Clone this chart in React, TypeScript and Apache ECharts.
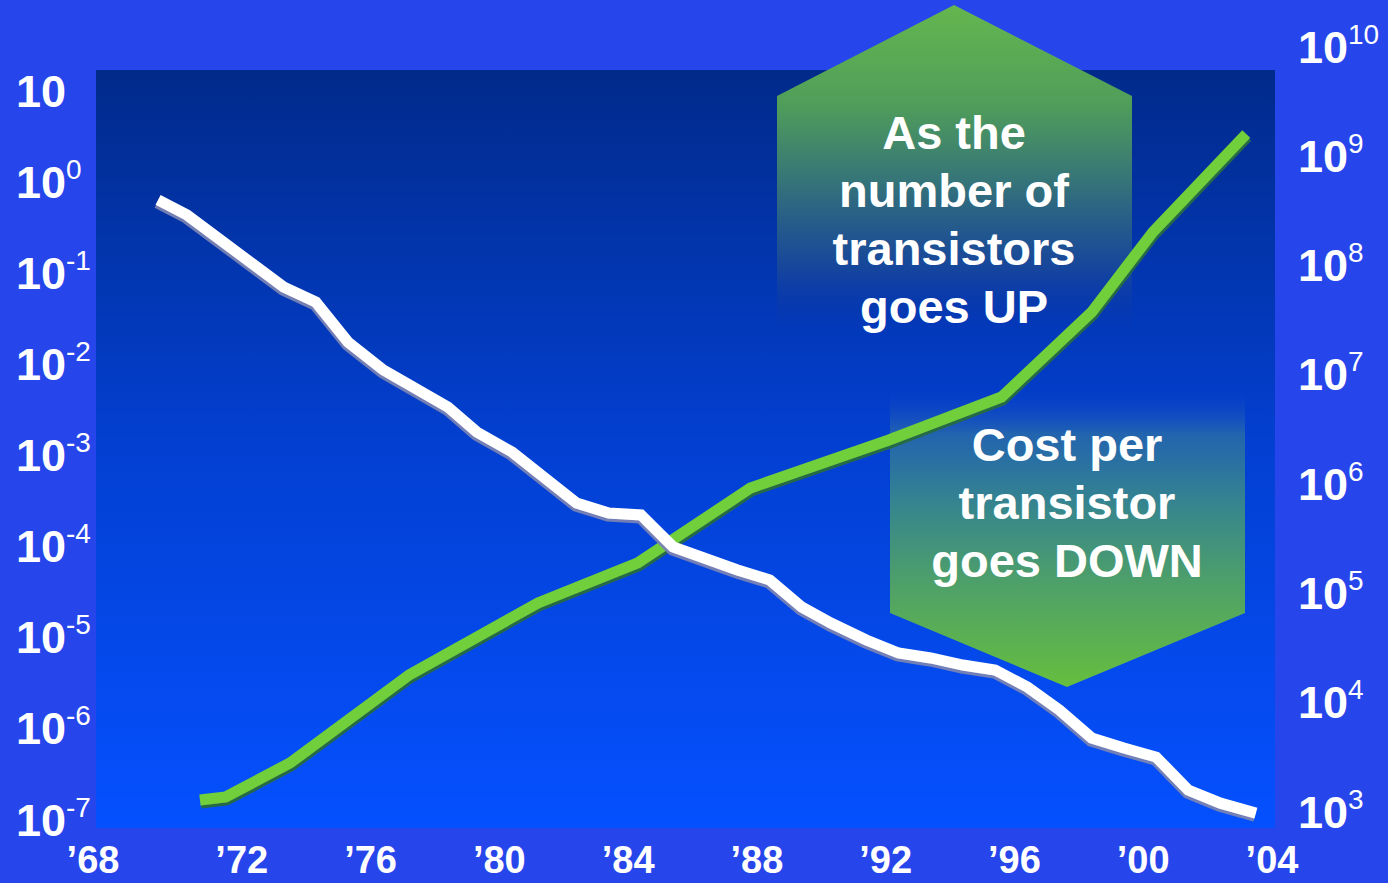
import React, { useEffect, useRef } from "react";
import * as echarts from "echarts";

// x-axis tick labels (every 4 years)
const xTickLabels = ["’68", "’72", "’76", "’80", "’84", "’88", "’92", "’96", "’00", "’04"];
// left axis: cost per transistor (log decades)
const leftExponents = [1, 0, -1, -2, -3, -4, -5, -6, -7];
// right axis: number of transistors (log decades)
const rightExponents = [10, 9, 8, 7, 6, 5, 4, 3];

// Cost per transistor (left, log scale)
const costYears = [
  1969.4, 1970.3, 1973.3, 1974.3, 1975.3, 1976.4, 1978.4, 1979.3, 1980.4, 1982.4,
  1983.4, 1984.4, 1985.4, 1987.4, 1988.4, 1989.4, 1990.3, 1991.4, 1992.4, 1993.4,
  1994.4, 1995.4, 1996.4, 1997.4, 1998.4, 1999.4, 2000.4, 2001.4, 2002.4, 2003.5,
];
const costPerTransistor = [
  0.637, 0.436, 0.0706, 0.0483, 0.0176, 0.00868, 0.00341, 0.00181, 0.00109, 0.000301,
  0.000234, 0.000223, 0.0000991, 0.0000554, 0.000043, 0.0000217, 0.0000145, 0.00000945, 0.0000068, 0.000006,
  0.00000502, 0.00000443, 0.00000288, 0.00000161, 7.94e-7, 6.17e-7, 4.91e-7, 2.13e-7, 1.53e-7, 1.19e-7,
];

// Number of transistors (right, log scale)
const transistorYears = [
  1970.7, 1971.5, 1973.5, 1977.2, 1981.2, 1984.3, 1987.8, 1992.1, 1995.6, 1998.4, 2000.3, 2003.2,
];
const transistorCount = [
  1288, 1374, 2812, 17950, 81850, 190100, 922000, 2535000, 6280000, 37600000, 203000000, 1600000000,
];

const FONT = '"Liberation Sans", Arial, sans-serif';

const labelShadow = {
  textShadowColor: "rgba(0,0,20,0.9)",
  textShadowOffsetX: 2,
  textShadowOffsetY: 2,
  textShadowBlur: 0,
};

const richLabels = {
  b: { fontSize: 45, fontWeight: "bold", lineHeight: 54, color: "#fff", fontFamily: FONT, ...labelShadow },
  s: { fontSize: 28, lineHeight: 27, verticalAlign: "top", color: "#fff", fontFamily: FONT, ...labelShadow },
};

function expLabel(v: number, allowed: number[], plainTop: boolean) {
  const e = Math.round(Math.log10(v));
  if (allowed.indexOf(e) < 0) return "";
  if (plainTop && e === 1) return "{b|10}";
  return `{b|10}{s|${e}}`;
}

export default function App() {
  const ref = useRef<HTMLDivElement>(null);

  useEffect(() => {
    if (!ref.current) return;
    const chart = echarts.init(ref.current, undefined, { renderer: "svg" });

    const gridLeft = 113;
    const gridRight = 116;

    const xAxisBase = {
      type: "value" as const,
      min: 1968,
      max: 2004,
      interval: 4,
      axisLine: { show: false },
      axisTick: { show: false },
      splitLine: { show: false },
    };

    const option: any = {
      animation: false,
      backgroundColor: "#2646EC",
      grid: [
        { left: gridLeft, right: gridRight, top: 91, bottom: 63 },
        { left: gridLeft, right: gridRight, top: 47, bottom: 71 },
      ],
      xAxis: [
        {
          ...xAxisBase,
          gridIndex: 0,
          axisLabel: {
            show: true,
            margin: 21,
            showMinLabel: true,
            showMaxLabel: true,
            formatter: (v: number) => {
              const i = Math.round((v - 1968) / 4);
              const t = xTickLabels[i] ?? "";
              return i === 0 ? `{f|${t}}` : `{n|${t}}`;
            },
            rich: {
              n: { fontSize: 38, fontWeight: "bold", color: "#fff", fontFamily: FONT },
              f: { fontSize: 38, fontWeight: "bold", color: "#fff", fontFamily: FONT, padding: [0, 40, 0, 0] },
            },
          },
        },
        { ...xAxisBase, gridIndex: 1, axisLabel: { show: false } },
      ],
      yAxis: [
        {
          type: "log",
          logBase: 10,
          gridIndex: 0,
          min: 1e-7,
          max: 10,
          interval: 1,
          position: "left",
          axisLine: { show: false },
          axisTick: { show: false },
          splitLine: { show: false },
          axisLabel: {
            align: "left",
            margin: 97,
            showMinLabel: true,
            showMaxLabel: true,
            formatter: (v: number) => expLabel(v, leftExponents, true),
            rich: richLabels,
          },
        },
        {
          type: "log",
          logBase: 10,
          gridIndex: 1,
          min: 1e3,
          max: 1e10,
          interval: 1,
          position: "right",
          axisLine: { show: false },
          axisTick: { show: false },
          splitLine: { show: false },
          axisLabel: {
            align: "left",
            margin: 26,
            showMinLabel: true,
            showMaxLabel: true,
            formatter: (v: number) => expLabel(v, rightExponents, false),
            rich: richLabels,
          },
        },
      ],
      graphic: [
        {
          type: "rect",
          silent: true,
          z: -10,
          shape: { x: 96, y: 70, width: 1179, height: 758 },
          style: {
            fill: {
              type: "linear", x: 0, y: 0, x2: 0, y2: 1,
              colorStops: [
                { offset: 0, color: "#012A8A" },
                { offset: 0.5, color: "#0340D2" },
                { offset: 1, color: "#0550FF" },
              ],
            },
          },
        },
        {
          type: "polygon",
          silent: true,
          z: -5,
          shape: { points: [[777, 96], [954, 5], [1132, 96], [1132, 332], [777, 332]] },
          style: {
            fill: {
              type: "linear", x: 0, y: 0, x2: 0, y2: 1,
              colorStops: [
                { offset: 0, color: "rgba(100,182,78,1)" },
                { offset: 0.3, color: "rgba(80,158,90,1)" },
                { offset: 0.55, color: "rgba(52,114,122,1)" },
                { offset: 0.8, color: "rgba(26,74,152,0.85)" },
                { offset: 1, color: "rgba(10,50,170,0)" },
              ],
            },
          },
        },
        {
          type: "polygon",
          silent: true,
          z: -5,
          shape: { points: [[890, 390], [1245, 390], [1245, 613], [1067, 687], [890, 613]] },
          style: {
            fill: {
              type: "linear", x: 0, y: 0, x2: 0, y2: 1,
              colorStops: [
                { offset: 0, color: "rgba(20,70,200,0)" },
                { offset: 0.15, color: "rgba(38,105,170,0.9)" },
                { offset: 0.4, color: "rgba(55,135,140,1)" },
                { offset: 0.65, color: "rgba(78,160,105,1)" },
                { offset: 1, color: "rgba(102,190,62,1)" },
              ],
            },
          },
        },
        {
          type: "text",
          silent: true,
          z: 20,
          x: 954,
          y: 219,
          style: {
            text: "As the\nnumber of\ntransistors\ngoes UP",
            fill: "#fff",
            fontSize: 47,
            fontWeight: "bold",
            fontFamily: FONT,
            lineHeight: 58,
            align: "center",
            verticalAlign: "middle",
          },
        },
        {
          type: "text",
          silent: true,
          z: 20,
          x: 1067,
          y: 502,
          style: {
            text: "Cost per\ntransistor\ngoes DOWN",
            fill: "#fff",
            fontSize: 47,
            fontWeight: "bold",
            fontFamily: FONT,
            lineHeight: 58,
            align: "center",
            verticalAlign: "middle",
          },
        },
      ],
      series: [
        {
          name: "Number of transistors",
          type: "line",
          xAxisIndex: 1,
          yAxisIndex: 1,
          data: transistorYears.map((x, i) => [x, transistorCount[i]]),
          symbol: "none",
          z: 3,
          lineStyle: {
            color: "#6FCF3B",
            width: 11,
            join: "miter",
            cap: "butt",
            shadowColor: "rgba(40,105,70,1)",
            shadowOffsetX: 1,
            shadowOffsetY: 3,
            shadowBlur: 0,
          },
        },
        {
          name: "Cost per transistor",
          type: "line",
          xAxisIndex: 0,
          yAxisIndex: 0,
          data: costYears.map((x, i) => [x, costPerTransistor[i]]),
          symbol: "none",
          z: 4,
          lineStyle: {
            color: "#FFFFFF",
            width: 11,
            join: "miter",
            cap: "butt",
            shadowColor: "rgba(120,130,180,0.95)",
            shadowOffsetX: -1,
            shadowOffsetY: 3,
            shadowBlur: 0,
          },
        },
      ],
    };

    chart.setOption(option);
    return () => chart.dispose();
  }, []);

  return (
    <div
      ref={ref}
      style={{ position: "fixed", left: 0, top: 0, width: 1388, height: 883 }}
    />
  );
}
